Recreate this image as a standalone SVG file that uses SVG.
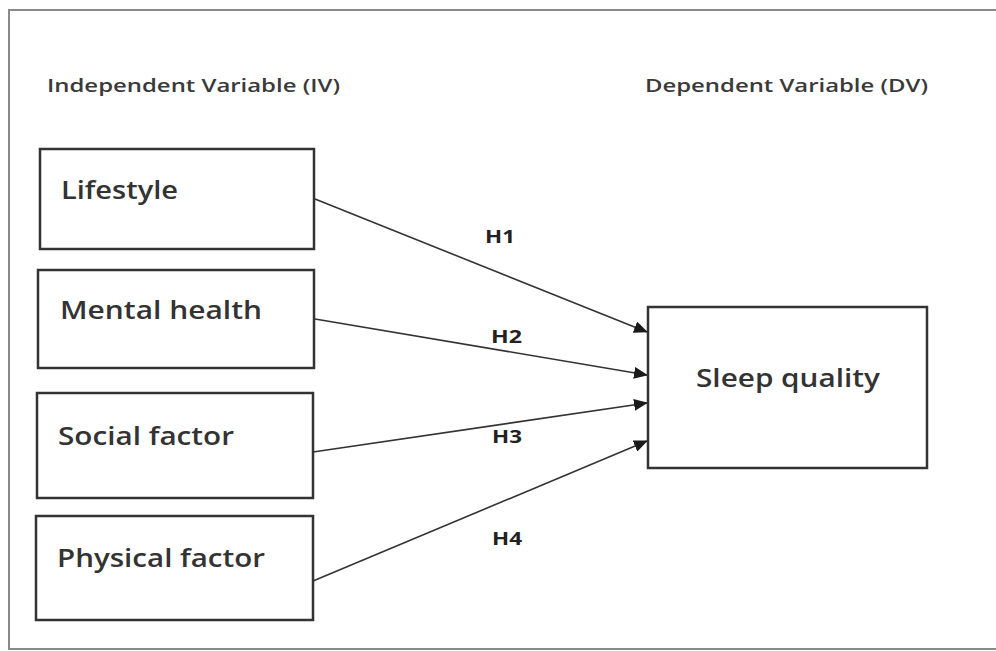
<svg xmlns="http://www.w3.org/2000/svg" width="996" height="651" viewBox="0 0 996 651">
<defs>
<marker id="arr" markerUnits="userSpaceOnUse" markerWidth="14" markerHeight="12" refX="13" refY="6" orient="auto">
<path d="M0,0 L14,6 L0,12 Z" fill="#1a1a1a"/>
</marker>
</defs>
<style>
.box{fill:#fff;stroke:#333;stroke-width:2.5}
.lbl{font-family:"Open Sans","Liberation Sans",sans-serif;font-size:26px;font-weight:600;fill:#333}
.hdr{font-family:"Open Sans","Liberation Sans",sans-serif;font-size:18px;font-weight:600;fill:#3a3a3a}
.h{font-family:"Open Sans","Liberation Sans",sans-serif;font-size:18px;font-weight:bold;fill:#222}
.con{stroke:#333;stroke-width:1.6;fill:none;marker-end:url(#arr)}
</style>
<rect x="0" y="0" width="996" height="651" fill="#fff"/>
<rect x="9" y="10" width="1000" height="639" fill="none" stroke="#8a8a8a" stroke-width="2"/>
<text class="hdr" x="47" y="92" textLength="293" lengthAdjust="spacingAndGlyphs">Independent Variable (IV)</text>
<text class="hdr" x="645" y="92" textLength="283" lengthAdjust="spacingAndGlyphs">Dependent Variable (DV)</text>
<g id="connectors">
<line class="con" x1="315" y1="199" x2="647" y2="332"/>
<line class="con" x1="315" y1="319" x2="647" y2="375"/>
<line class="con" x1="313" y1="452" x2="647" y2="403"/>
<line class="con" x1="313" y1="581" x2="647" y2="441"/>
<text class="h" x="485" y="243" textLength="30" lengthAdjust="spacingAndGlyphs">H1</text>
<text class="h" x="491" y="343" textLength="31" lengthAdjust="spacingAndGlyphs">H2</text>
<text class="h" x="492" y="443" textLength="30" lengthAdjust="spacingAndGlyphs">H3</text>
<text class="h" x="492" y="545" textLength="30" lengthAdjust="spacingAndGlyphs">H4</text>
</g>
<g id="lifestyle">
<rect class="box" x="40" y="149" width="274" height="100"/>
<text class="lbl" x="61" y="199" textLength="117" lengthAdjust="spacingAndGlyphs">Lifestyle</text>
</g>
<g id="mental">
<rect class="box" x="38" y="270" width="276" height="98"/>
<text class="lbl" x="60" y="319" textLength="202" lengthAdjust="spacingAndGlyphs">Mental health</text>
</g>
<g id="social">
<rect class="box" x="37" y="393" width="276" height="105"/>
<text class="lbl" x="58" y="445" textLength="176" lengthAdjust="spacingAndGlyphs">Social factor</text>
</g>
<g id="physical">
<rect class="box" x="36" y="516" width="277" height="104"/>
<text class="lbl" x="57" y="567" textLength="208" lengthAdjust="spacingAndGlyphs">Physical factor</text>
</g>
<g id="sleep">
<rect class="box" x="648" y="307" width="279" height="161"/>
<text class="lbl" x="696" y="387" textLength="184" lengthAdjust="spacingAndGlyphs">Sleep quality</text>
</g>
</svg>
